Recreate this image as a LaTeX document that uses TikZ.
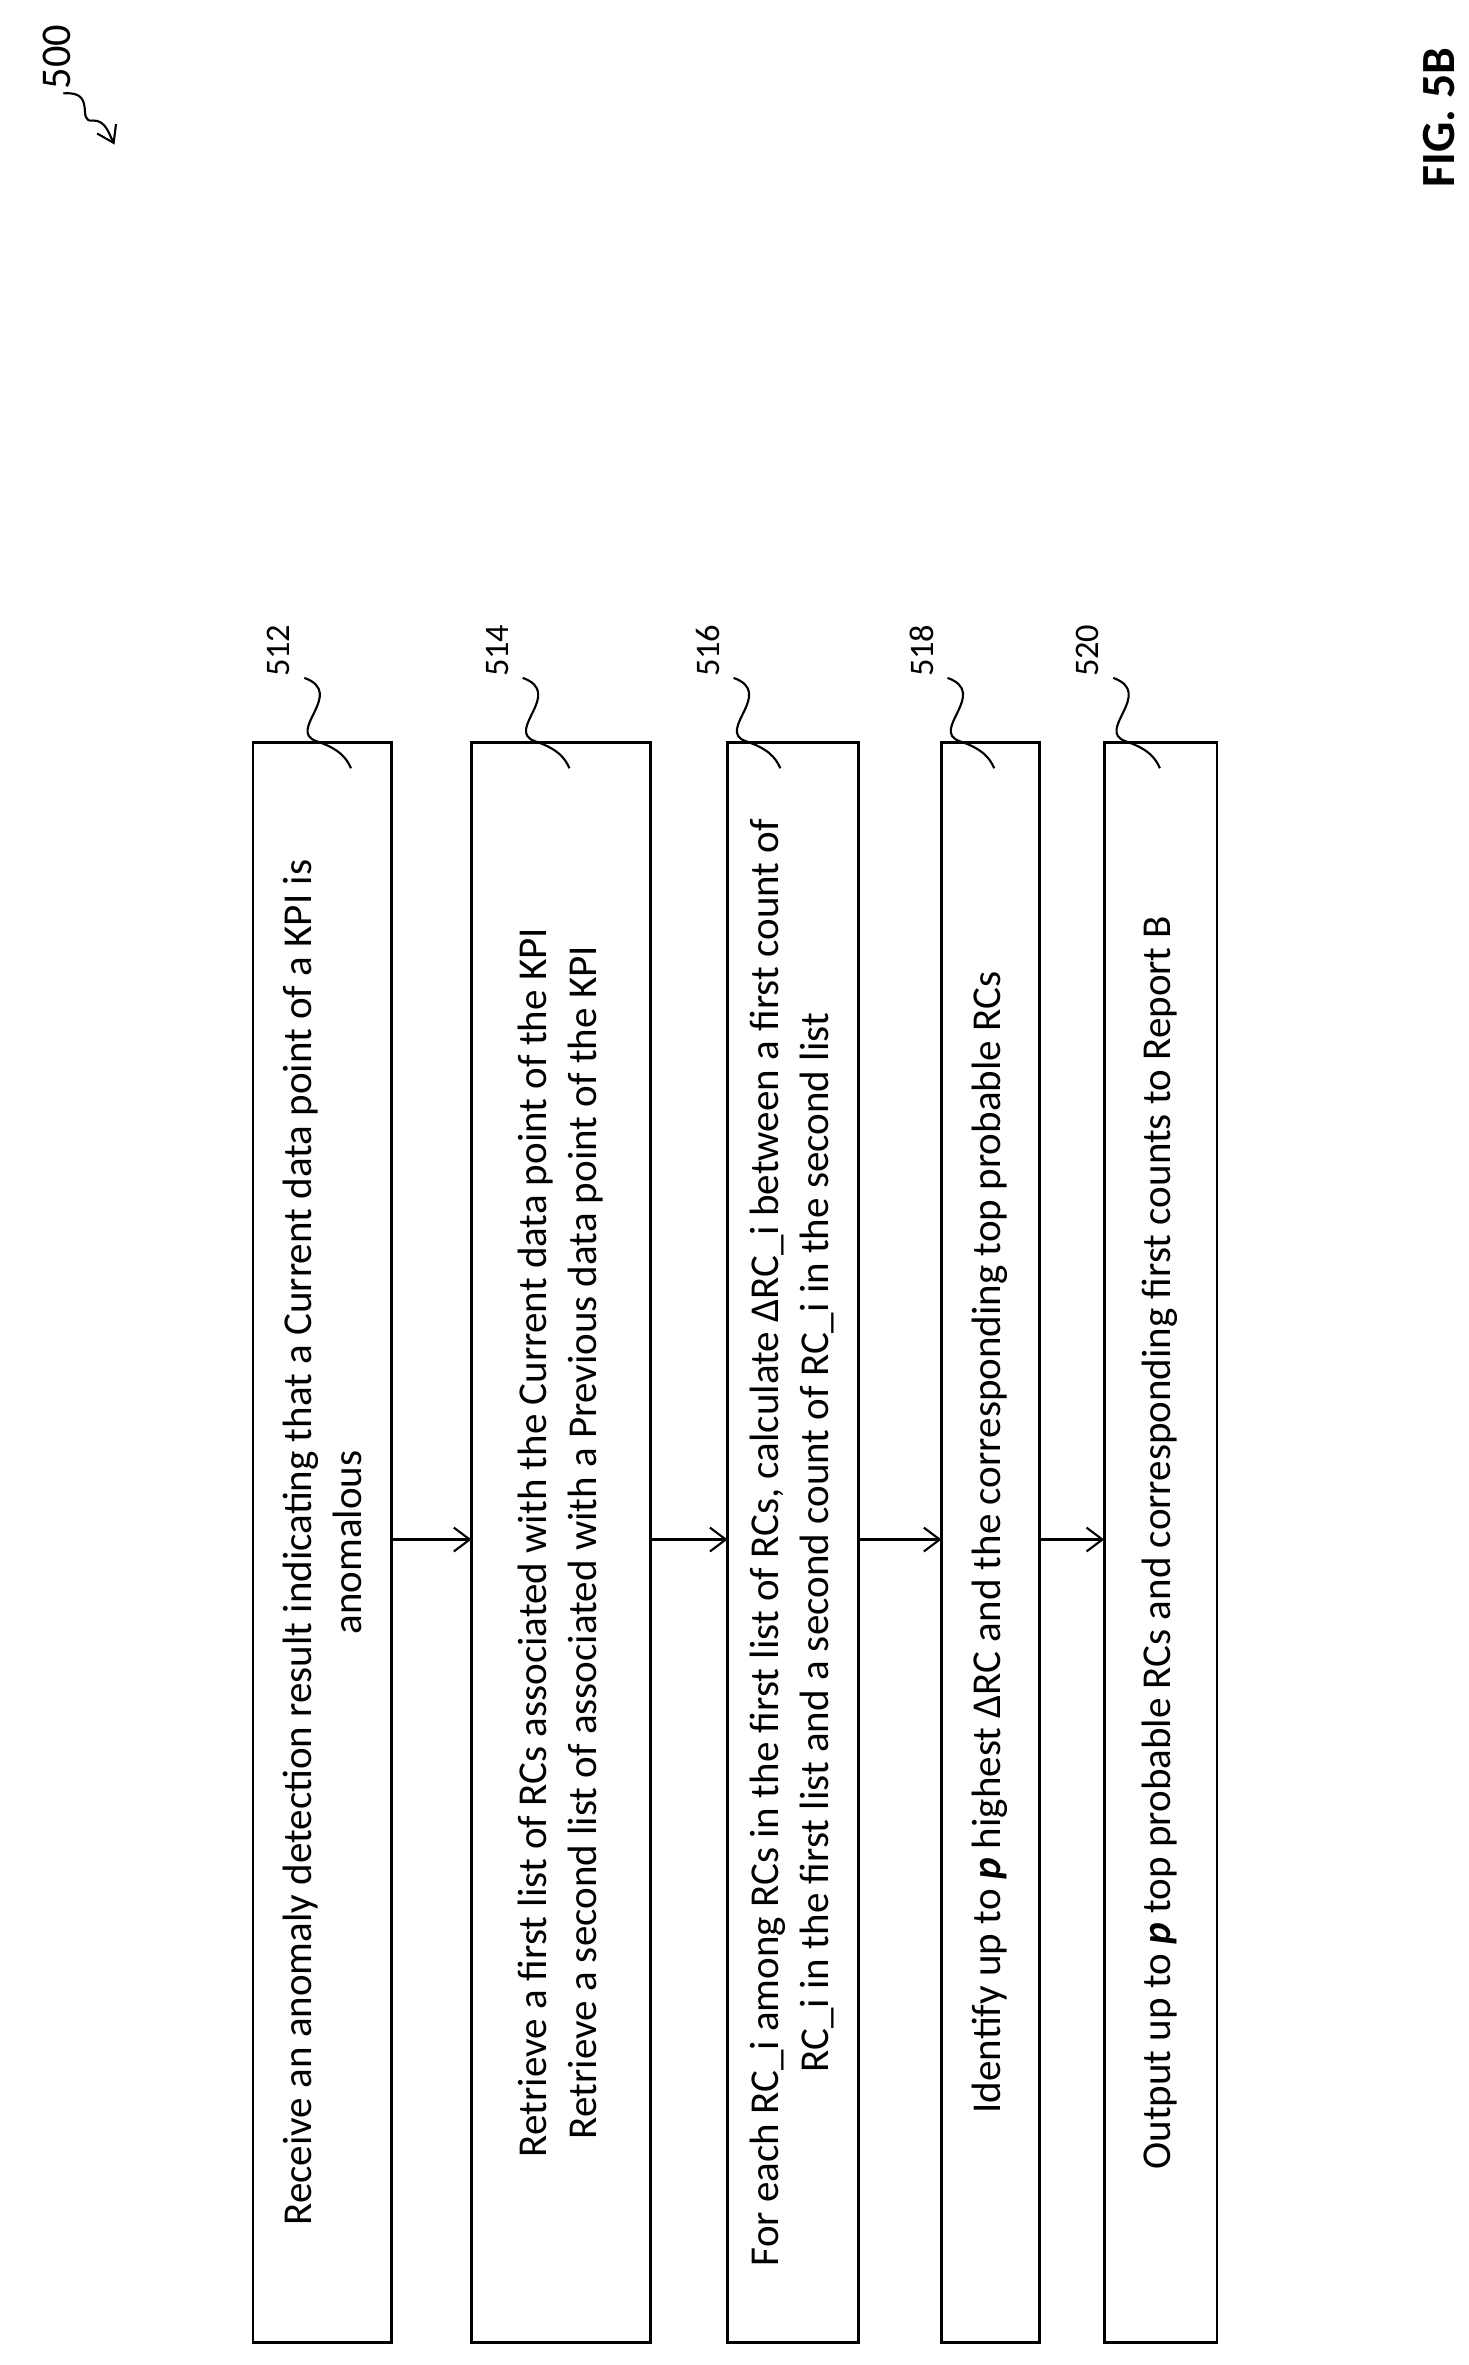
\documentclass[tikz,border=0pt]{standalone}
\usepackage{fontspec}
\setmainfont{Carlito}
\usetikzlibrary{arrows.meta}
\begin{document}
\begin{tikzpicture}[x=0.02cm,y=-0.02cm,
  boxs/.style={draw,line width=1pt},
  txt/.style={rotate=90,align=center,font=\fontsize{15.5}{19}\selectfont},
  arr/.style={-{Straight Barb[length=6pt,width=9pt]},line width=0.8pt},
  lbl/.style={rotate=90,font=\fontsize{13}{15}\selectfont}]
\useasboundingbox (0,0) rectangle (975,1570);
\draw[boxs] (168,493) rectangle (260,1555);
\draw[boxs] (313,493) rectangle (432,1555);
\draw[boxs] (483,493) rectangle (570,1555);
\draw[boxs] (625,493) rectangle (690,1555);
\draw[boxs] (733,493) rectangle (808,1555);
\node[txt] (t1) at (214,1024) {Receive an anomaly detection result indicating that a Current data point of a KPI is\\anomalous};
\node[txt] (t2) at (372,1024) {Retrieve a first list of RCs associated with the Current data point of the KPI\\Retrieve a second list of associated with a Previous data point of the KPI};
\node[txt] (t3) at (526,1024) {For each RC\_i among RCs in the first list of RCs, calculate ΔRC\_i between a first count of\\RC\_i in the first list and a second count of RC\_i in the second list};
\node[txt] (t4) at (657,1024) {Identify up to \textbf{\textit{p}} highest ΔRC and the corresponding top probable RCs};
\node[txt] (t5) at (770,1024) {Output up to \textbf{\textit{p}} top probable RCs and corresponding first counts to Report B};
\coordinate (a1) at (260,1022); \coordinate (b1) at (313,1022);
\coordinate (a2) at (432,1022); \coordinate (b2) at (483,1022);
\coordinate (a3) at (570,1022); \coordinate (b3) at (625,1022);
\coordinate (a4) at (690,1022); \coordinate (b4) at (733,1022);
\draw[arr] (a1) -- (b1); \draw[arr] (a2) -- (b2); \draw[arr] (a3) -- (b3); \draw[arr] (a4) -- (b4);
\foreach \x/\n in {185/512,330/514,470/516,612/518,722/520}{
  \node[lbl] at (\x,432) {\n};
  \draw[line width=0.8pt] (\x+17,450) .. controls (\x+45,460) and (\x+5,485) .. (\x+25,492) .. controls (\x+40,497) and (\x+45,503) .. (\x+48,510);
}
\node[lbl,font=\fontsize{16}{18}\selectfont] (n500) at (38,38) {500};
\draw[-{Straight Barb[length=6pt,width=8pt]},line width=0.8pt] (42,62) .. controls (65,60) and (50,82) .. (62,80) .. controls (70,80) and (72,88) .. (76,96);
\node[lbl,font=\bfseries\fontsize{18}{20}\selectfont] (fig) at (955,78) {FIG. 5B};
\end{tikzpicture}
\end{document}
